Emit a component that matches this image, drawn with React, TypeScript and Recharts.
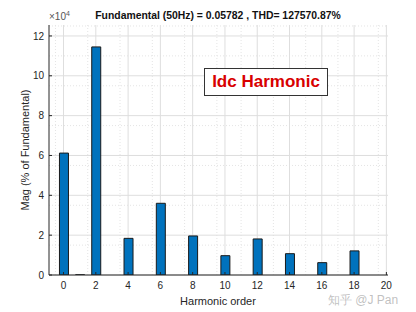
import React from 'react';
import { Bar, BarChart, CartesianGrid, XAxis, YAxis } from 'recharts';

// harmonic spectrum, magnitudes in units of 10^4 % of fundamental
const orders = [0, 1, 2, 3, 4, 5, 6, 7, 8, 9, 10, 11, 12, 13, 14, 15, 16, 17, 18, 19, 20];
const magnitudes = [6.12, 0.01, 11.45, 0, 1.84, 0, 3.6, 0, 1.96, 0, 0.97, 0, 1.81, 0, 1.07, 0, 0.62, 0, 1.21, 0, 0];
const xTicks = [0, 2, 4, 6, 8, 10, 12, 14, 16, 18, 20];
const yTicks = [0, 2, 4, 6, 8, 10, 12];
const xMinor = [-0.5, 0.5, 1, 1.5, 2.5, 3, 3.5, 4.5, 5, 5.5, 6.5, 7, 7.5, 8.5, 9, 9.5, 10.5, 11, 11.5, 12.5, 13, 13.5, 14.5, 15, 15.5, 16.5, 17, 17.5, 18.5, 19, 19.5];
const yMinor = [0.5, 1, 1.5, 2.5, 3, 3.5, 4.5, 5, 5.5, 6.5, 7, 7.5, 8.5, 9, 9.5, 10.5, 11, 11.5, 12.5];

const data = orders.map((h, i) => ({ h, mag: magnitudes[i] }));

const font = '"Liberation Sans", Arial, sans-serif';
const ink = '#262626';

const App = () => {
  return (
    <div style={{ position: 'absolute', left: 0, top: 0, width: 416, height: 312, background: '#fff', fontFamily: font }}>
      <BarChart
        width={416}
        height={312}
        data={data}
        margin={{ top: 25, right: 28, left: 0, bottom: 0 }}
        barSize={9}
      >
        <CartesianGrid
          stroke="#e4e4e4"
          strokeDasharray="1 2"
          verticalValues={xMinor}
          horizontalValues={yMinor}
        />
        <CartesianGrid stroke="#dedede" verticalValues={xTicks} horizontalValues={yTicks} />
        <XAxis
          dataKey="h"
          type="number"
          domain={[-0.9, 20.1]}
          ticks={xTicks}
          allowDataOverflow
          height={37}
          tickSize={-3}
          tickMargin={10}
          stroke={ink}
          tick={{ fill: ink, fontSize: 10, fontFamily: font }}
        />
        <XAxis
          xAxisId="top"
          orientation="top"
          dataKey="h"
          type="number"
          domain={[-0.9, 20.1]}
          ticks={xTicks}
          allowDataOverflow
          height={0}
          tickSize={-3}
          tick={false}
          stroke={ink}
        />
        <YAxis
          type="number"
          domain={[0, 12.55]}
          ticks={yTicks}
          allowDataOverflow
          width={49}
          tickSize={-3}
          tickMargin={8}
          stroke={ink}
          tick={{ fill: ink, fontSize: 10, fontFamily: font }}
        />
        <YAxis
          yAxisId="right"
          orientation="right"
          type="number"
          domain={[0, 12.55]}
          ticks={yTicks}
          width={0}
          tickSize={-3}
          tick={false}
          stroke={ink}
        />
        <Bar dataKey="mag" fill="#0072BD" stroke="#1a1a1a" strokeWidth={1} isAnimationActive={false} />
      </BarChart>

      <div style={{ position: 'absolute', left: 0, width: 436, top: 10, textAlign: 'center', fontSize: 10.4, fontWeight: 'bold', color: '#111' }}>
        Fundamental (50Hz) = 0.05782 , THD= 127570.87%
      </div>
      <div style={{ position: 'absolute', left: 49, top: 10, fontSize: 10, color: '#555' }}>
        ×10<sup style={{ fontSize: 7 }}>4</sup>
      </div>
      <div
        style={{
          position: 'absolute',
          left: 25,
          top: 150,
          transform: 'translate(-50%, -50%) rotate(-90deg)',
          whiteSpace: 'nowrap',
          fontSize: 11,
          color: ink,
        }}
      >
        Mag (% of Fundamental)
      </div>
      <div style={{ position: 'absolute', left: 168, width: 100, top: 295, textAlign: 'center', fontSize: 11, color: ink }}>
        Harmonic order
      </div>
      <div
        style={{
          position: 'absolute',
          left: 204,
          top: 68,
          width: 122,
          height: 26,
          border: '1px solid #333',
          background: '#fff',
          color: '#d80000',
          fontWeight: 'bold',
          fontSize: 17,
          lineHeight: '26px',
          textAlign: 'center',
        }}
      >
        Idc Harmonic
      </div>
      <div style={{ position: 'absolute', left: 328, top: 292, fontSize: 12, color: 'rgba(150,150,150,0.6)', whiteSpace: 'nowrap' }}>
        知乎 @J Pan
      </div>
    </div>
  );
};

export default App;
